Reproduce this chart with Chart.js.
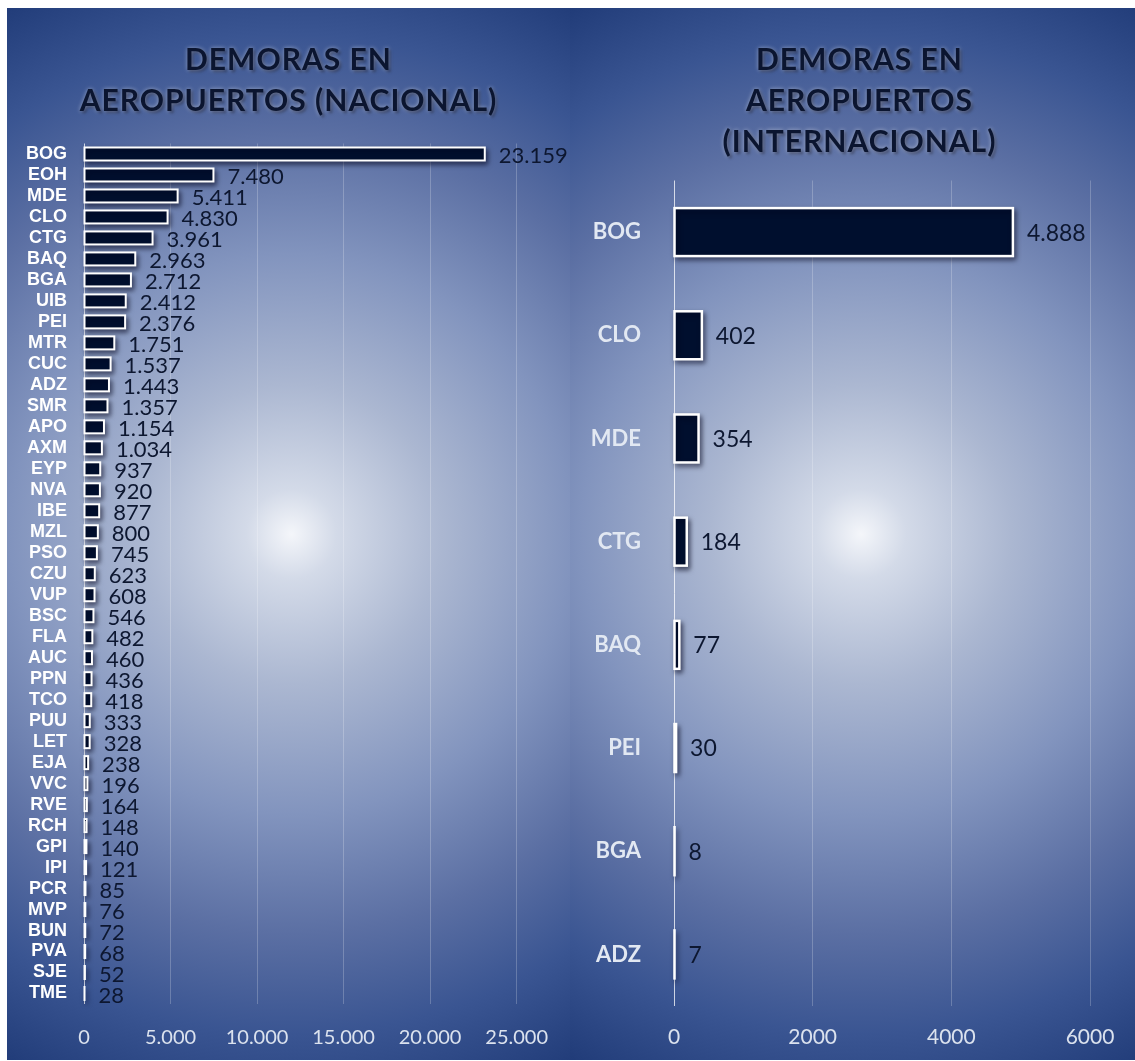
<!DOCTYPE html>
<html lang="es">
<head>
    <meta charset="UTF-8">
    <title>Demoras en aeropuertos</title>
    <script src="https://cdn.jsdelivr.net/npm/chart.js"></script>
    <style>
        body {
            margin: 0;
            background: #ffffff;
        }
        #wrap {
            position: relative;
            width: 1135px;
            height: 1061px;
            background: #ffffff;
        }
        .panel {
            position: absolute;
            top: 8px;
            height: 1052px;
        }
        #panelNat {
            left: 7px;
            width: 563px;
            background: radial-gradient(circle at 50.5% 50%,
                #f4f6fa 0px, #d3dae8 45px, #abb7d1 150px, #8294be 280px,
                #5b6fa3 400px, #3a5592 500px, #17326f 640px);
        }
        #panelInt {
            left: 570px;
            width: 565px;
            background: radial-gradient(circle at 51.5% 50%,
                #f4f6fa 0px, #d3dae8 45px, #abb7d1 150px, #8294be 280px,
                #5b6fa3 400px, #3a5592 500px, #17326f 640px);
        }
        .title {
            position: absolute;
            top: 30px;
            left: 0;
            width: 100%;
            text-align: center;
            font-family: Lato, sans-serif;
            font-weight: bold;
            font-size: 30px;
            letter-spacing: 1px;
            line-height: 41px;
            color: #0b1530;
            text-shadow: 0 0 4px rgba(255, 255, 255, 0.45), 2px 2px 3px rgba(0, 0, 20, 0.45);
        }
        #panelInt .title { left: 7px; }
        canvas {
            display: block;
        }
    </style>
</head>
<body>
    <div id="wrap">
        <div class="panel" id="panelNat">
            <canvas id="natChart"></canvas>
            <div class="title">DEMORAS EN<br>AEROPUERTOS (NACIONAL)</div>
        </div>
        <div class="panel" id="panelInt">
            <canvas id="intChart"></canvas>
            <div class="title">DEMORAS EN<br>AEROPUERTOS<br>(INTERNACIONAL)</div>
        </div>
    </div>
    <script>
        // vuelos nacionales: demoras por aeropuerto
        const natLabels = ['BOG', 'EOH', 'MDE', 'CLO', 'CTG', 'BAQ', 'BGA', 'UIB', 'PEI', 'MTR',
            'CUC', 'ADZ', 'SMR', 'APO', 'AXM', 'EYP', 'NVA', 'IBE', 'MZL', 'PSO',
            'CZU', 'VUP', 'BSC', 'FLA', 'AUC', 'PPN', 'TCO', 'PUU', 'LET', 'EJA',
            'VVC', 'RVE', 'RCH', 'GPI', 'IPI', 'PCR', 'MVP', 'BUN', 'PVA', 'SJE', 'TME'];
        const natValues = [23159, 7480, 5411, 4830, 3961, 2963, 2712, 2412, 2376, 1751,
            1537, 1443, 1357, 1154, 1034, 937, 920, 877, 800, 745,
            623, 608, 546, 482, 460, 436, 418, 333, 328, 238,
            196, 164, 148, 140, 121, 85, 76, 72, 68, 52, 28];
        const natTicks = [0, 5000, 10000, 15000, 20000, 25000];

        // vuelos internacionales
        const intLabels = ['BOG', 'CLO', 'MDE', 'CTG', 'BAQ', 'PEI', 'BGA', 'ADZ'];
        const intValues = [4888, 402, 354, 184, 77, 30, 8, 7];
        const intTicks = [0, 2000, 4000, 6000];

        const tickColor = '#dbe2ee';
        const gridColor = c => (c.tick && c.tick.value === 0) ? 'rgba(255, 255, 255, 0.75)' : 'rgba(255, 255, 255, 0.22)';

        // miles con punto: 23159 -> 23.159
        const miles = v => String(v).replace(/\B(?=(\d{3})+(?!\d))/g, '.');

        // sombra, borde blanco centrado y etiqueta de valor de cada barra
        const barDeco = {
            id: 'barDeco',
            beforeDatasetsDraw(chart) {
                const c = chart.ctx;
                c.save();
                c.shadowColor = 'rgba(0, 0, 25, 0.55)';
                c.shadowBlur = 5;
                c.shadowOffsetX = 2;
                c.shadowOffsetY = 3;
            },
            afterDatasetsDraw(chart, args, opts) {
                const c = chart.ctx;
                const meta = chart.getDatasetMeta(0);
                c.strokeStyle = '#ffffff';
                c.lineWidth = opts.lineWidth;
                meta.data.forEach(bar => {
                    const x0 = Math.min(bar.base, bar.x);
                    const w = Math.abs(bar.x - bar.base);
                    c.strokeRect(x0, bar.y - bar.height / 2, w, bar.height);
                });
                c.restore();

                c.save();
                c.fillStyle = opts.color;
                c.font = opts.font;
                c.textAlign = 'left';
                c.textBaseline = 'middle';
                const data = chart.data.datasets[0].data;
                meta.data.forEach((bar, i) => {
                    c.fillText(miles(data[i]), bar.x + opts.gap, bar.y + opts.dy);
                });
                c.restore();
            }
        };

        function barChart(id, labels, values, ticks, o) {
            return new Chart(document.getElementById(id), {
                type: 'bar',
                data: {
                    labels: labels,
                    datasets: [{
                        data: values,
                        backgroundColor: '#000f2e',
                        borderWidth: 0,
                        barPercentage: o.barPct,
                        categoryPercentage: 1
                    }]
                },
                options: {
                    indexAxis: 'y',
                    responsive: true,
                    maintainAspectRatio: false,
                    animation: false,
                    layout: { padding: { top: o.top, right: o.right, left: 0, bottom: 0 } },
                    scales: {
                        x: {
                            min: ticks[0],
                            max: ticks[ticks.length - 1],
                            afterBuildTicks: s => { s.ticks = ticks.map(v => ({ value: v })); },
                            afterFit: s => { s.height = o.xHeight; },
                            ticks: {
                                color: tickColor,
                                font: { family: 'Lato', size: o.tickSize },
                                padding: o.xPad,
                                callback: o.tickFmt
                            },
                            grid: { color: gridColor, drawTicks: false },
                            border: { display: false }
                        },
                        y: {
                            afterFit: s => { s.width = o.yWidth; },
                            ticks: {
                                color: o.catColor,
                                font: o.catFont,
                                padding: o.yPad,
                                autoSkip: false
                            },
                            grid: { display: false },
                            border: { display: false }
                        }
                    },
                    plugins: {
                        legend: { display: false },
                        tooltip: { enabled: false },
                        barDeco: o.deco
                    }
                },
                plugins: [barDeco]
            });
        }

        barChart('natChart', natLabels, natValues, natTicks, {
            top: 135.5, right: 53, xHeight: 56, yWidth: 77,
            barPct: 0.62, tickSize: 20, xPad: 22, yPad: 9,
            tickFmt: v => miles(v),
            catColor: '#ffffff',
            catFont: { family: 'Liberation Sans', weight: 'bold', size: 18 },
            deco: { lineWidth: 2, font: '22px Lato', color: '#0d1730', gap: 14, dy: 2 }
        });

        barChart('intChart', intLabels, intValues, intTicks, {
            top: 172.5, right: 45, xHeight: 54, yWidth: 104,
            barPct: 0.465, tickSize: 21, xPad: 19, yPad: 25,
            tickFmt: v => String(v),
            catColor: '#e2e8f2',
            catFont: { family: 'Lato', weight: 'bold', size: 22 },
            deco: { lineWidth: 2.5, font: '23px Lato', color: '#0d1730', gap: 14, dy: 1 }
        });
    </script>
</body>
</html>
